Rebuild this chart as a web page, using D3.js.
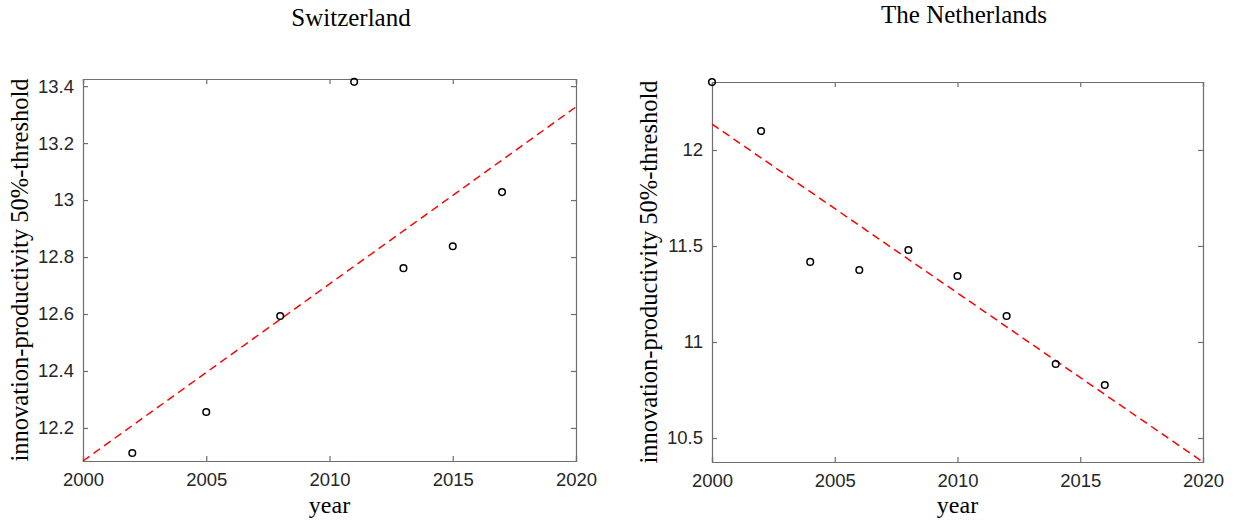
<!DOCTYPE html>
<html>
<head>
<meta charset="utf-8">
<script src="https://cdn.jsdelivr.net/npm/d3@7"></script>
<style>
  body { margin: 0; background: #fff; }
  .tick text { font-family: "Liberation Sans", Arial, sans-serif; fill: #262626; }
  .ttl { font-family: "Liberation Serif", serif; fill: #000; }
</style>
</head>
<body>
<div id="vis"></div>
<script>
// Switzerland
var chYears = [2002, 2005, 2008, 2011, 2013, 2015, 2017]
var chValues = [12.112, 12.256, 12.593, 13.415, 12.761, 12.838, 13.028]
var chFit = [[2000, 12.084], [2020, 13.327]]
var chTicks = [12.2, 12.4, 12.6, 12.8, 13, 13.2, 13.4]

// The Netherlands
var nlYears = [2000, 2002, 2004, 2006, 2008, 2010, 2012, 2014, 2016]
var nlValues = [12.354, 12.099, 11.417, 11.375, 11.479, 11.344, 11.135, 10.885, 10.776]
var nlFit = [[2000, 12.135], [2020, 10.375]]
var nlTicks = [10.5, 11, 11.5, 12]

var yearTicks = [2000, 2005, 2010, 2015, 2020]

var width = 1239, height = 524

var svg = d3.select("#vis").append("svg")
    .attr("width", width)
    .attr("height", height)

var panels = [
  {title: "Switzerland", years: chYears, values: chValues, fit: chFit, ticks: chTicks,
   left: 83, right: 576, top: 79, bottom: 461, ydom: [12.084, 13.425], titleX: 351, titleY: 26, labX: 28},
  {title: "The Netherlands", years: nlYears, values: nlValues, fit: nlFit, ticks: nlTicks,
   left: 712, right: 1203, top: 82, bottom: 462, ydom: [10.375, 12.354], titleX: 964, titleY: 23, labX: 657}
]

panels.forEach(function(p) {
  var x = d3.scaleLinear().domain([2000, 2020]).range([p.left, p.right])
  var y = d3.scaleLinear().domain(p.ydom).range([p.bottom, p.top])
  var g = svg.append("g")

  // axes, ticks inward on all four sides
  var fmt = function(d) { return d3.format("")(d) }
  g.append("g")
      .attr("transform", "translate(0," + p.bottom + ")")
      .call(d3.axisBottom(x).tickValues(yearTicks).tickSize(-5).tickPadding(12).tickFormat(d3.format("d")))
  g.append("g")
      .attr("transform", "translate(0," + p.top + ")")
      .call(d3.axisTop(x).tickValues(yearTicks).tickSize(-5).tickFormat(""))
  g.append("g")
      .attr("transform", "translate(" + p.left + ",0)")
      .call(d3.axisLeft(y).tickValues(p.ticks).tickSize(-5).tickPadding(9).tickFormat(fmt))
  g.append("g")
      .attr("transform", "translate(" + p.right + ",0)")
      .call(d3.axisRight(y).tickValues(p.ticks).tickSize(-5).tickFormat(""))

  g.selectAll(".domain").attr("stroke", "#6e6e6e").attr("stroke-width", 1.2)
  g.selectAll(".tick line").attr("stroke", "#6e6e6e").attr("stroke-width", 1.2)
  g.selectAll(".tick text").style("font-size", "18.5px")

  // fitted line
  g.append("line")
      .attr("x1", x(p.fit[0][0])).attr("y1", y(p.fit[0][1]))
      .attr("x2", x(p.fit[1][0])).attr("y2", y(p.fit[1][1]))
      .attr("stroke", "#ff0000")
      .attr("stroke-width", 1.5)
      .attr("stroke-dasharray", "8,5")

  // data points
  g.selectAll("circle")
      .data(p.years)
      .enter()
      .append("circle")
      .attr("cx", function(d) { return x(d) })
      .attr("cy", function(d, i) { return y(p.values[i]) })
      .attr("r", 3.3)
      .attr("fill", "none")
      .attr("stroke", "#000")
      .attr("stroke-width", 1.5)

  // titles and labels
  g.append("text")
      .attr("class", "ttl")
      .attr("x", p.titleX)
      .attr("y", p.titleY)
      .attr("text-anchor", "middle")
      .style("font-size", "25px")
      .text(p.title)

  g.append("text")
      .attr("class", "ttl")
      .attr("x", (p.left + p.right) / 2)
      .attr("y", 513)
      .attr("text-anchor", "middle")
      .style("font-size", "24px")
      .text("year")

  g.append("text")
      .attr("class", "ttl")
      .attr("transform", "translate(" + p.labX + "," + ((p.top + p.bottom) / 2) + ") rotate(-90)")
      .attr("text-anchor", "middle")
      .style("font-size", "24.5px")
      .text("innovation-productivity 50%-threshold")
})
</script>
</body>
</html>
